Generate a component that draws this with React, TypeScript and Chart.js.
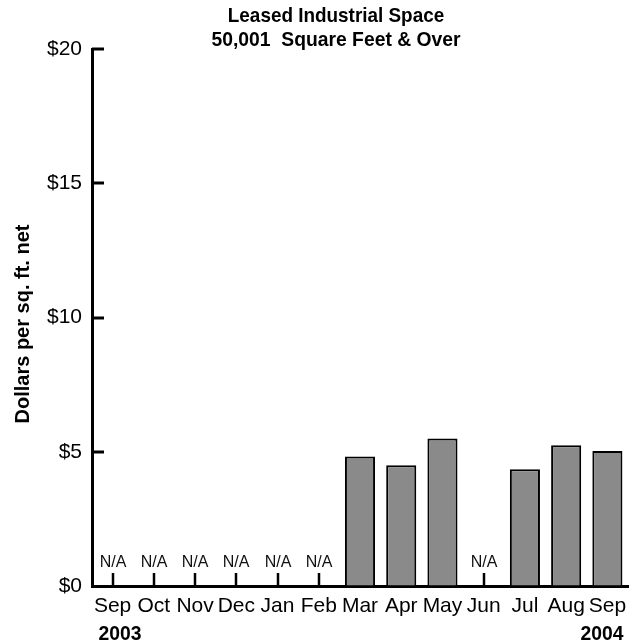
import React, { useEffect, useRef } from "react";
import { Chart, registerables } from "chart.js";

Chart.register(...registerables);

const categories = ["Sep", "Oct", "Nov", "Dec", "Jan", "Feb", "Mar", "Apr", "May", "Jun", "Jul", "Aug", "Sep"];
const rents: (number | null)[] = [null, null, null, null, null, null, 4.82, 4.5, 5.49, null, 4.35, 5.24, 5.03];
const yMin = 0;
const yMax = 20;
const yStep = 5;
const titleLines = ["Leased Industrial Space", "50,001  Square Feet & Over"];
const yTitle = "Dollars per sq. ft. net";
const startYear = "2003";
const endYear = "2004";
const naLabel = "N/A";

const SANS = '"Liberation Sans", Arial, sans-serif';

function narrowText(ctx: CanvasRenderingContext2D, text: string, x: number, y: number, sx: number) {
  ctx.save();
  ctx.translate(x, y);
  ctx.scale(sx, 1);
  ctx.fillText(text, 0, 0);
  ctx.restore();
}

const decorPlugin = {
  id: "decor",
  afterDraw(chart: any) {
    const ctx = chart.ctx as CanvasRenderingContext2D;
    const area = chart.chartArea;
    const xs = chart.scales.x;
    const ys = chart.scales.y;
    ctx.save();
    // Title
    ctx.fillStyle = "#000";
    ctx.textAlign = "center";
    ctx.textBaseline = "middle";
    ctx.font = `bold 21px ${SANS}`;
    narrowText(ctx, titleLines[0], 336, 16, 0.9);
    narrowText(ctx, titleLines[1], 336, 40, 0.92);
    // Y title
    ctx.save();
    ctx.translate(23, 324);
    ctx.rotate(-Math.PI / 2);
    ctx.font = `bold 20px ${SANS}`;
    ctx.fillText(yTitle, 0, 0);
    ctx.restore();
    // inward y ticks
    ctx.strokeStyle = "#000";
    ctx.lineWidth = 3;
    ys.ticks.forEach((t: any) => {
      if (t.value === yMin) return;
      const py = Math.round(ys.getPixelForValue(t.value));
      ctx.beginPath();
      ctx.moveTo(area.left, py);
      ctx.lineTo(area.left + 12, py);
      ctx.stroke();
    });
    // N/A markers
    ctx.font = `16px ${SANS}`;
    ctx.textAlign = "center";
    ctx.textBaseline = "middle";
    ctx.fillStyle = "#111";
    rents.forEach((v, i) => {
      if (v !== null) return;
      const px = Math.round(xs.getPixelForValue(i));
      const py0 = ys.getPixelForValue(0);
      ctx.lineWidth = 2.5;
      ctx.beginPath();
      ctx.moveTo(px, py0);
      ctx.lineTo(px, py0 - 13);
      ctx.stroke();
      ctx.fillText(naLabel, px, py0 - 23);
    });
    // Years
    ctx.fillStyle = "#000";
    ctx.font = `bold 21px ${SANS}`;
    ctx.textBaseline = "middle";
    ctx.textAlign = "left";
    narrowText(ctx, startYear, xs.getPixelForValue(0) - 14, 634, 0.92);
    ctx.textAlign = "right";
    narrowText(ctx, endYear, xs.getPixelForValue(categories.length - 1) + 16, 634, 0.92);
    ctx.restore();
  },
};

export default function App() {
  const ref = useRef<HTMLCanvasElement>(null);
  useEffect(() => {
    document.body.style.margin = "0";
    const chart = new Chart(ref.current!, {
      type: "bar",
      data: {
        labels: categories,
        datasets: [
          {
            data: rents as any,
            backgroundColor: "#8a8a8a",
            borderColor: "#000",
            borderWidth: 2,
            barPercentage: 0.73,
            categoryPercentage: 1,
          },
        ],
      },
      options: {
        responsive: false,
        animation: false,
        devicePixelRatio: 1,
        layout: { padding: { top: 49, right: 8, left: 0, bottom: 0 } },
        plugins: {
          legend: { display: false },
          tooltip: { enabled: false },
          title: { display: false },
        },
        scales: {
          x: {
            type: "category",
            offset: true,
            grid: { display: true, drawOnChartArea: false, drawTicks: false },
            border: { display: true, color: "#000", width: 3 },
            ticks: {
              color: "#000",
              font: { family: SANS, size: 21 },
              padding: 8,
              maxRotation: 0,
              autoSkip: false,
            },
            afterFit: (s: any) => {
              s.height = 58;
            },
          },
          y: {
            min: yMin,
            max: yMax,
            grid: { display: true, drawOnChartArea: false, drawTicks: false },
            border: { display: true, color: "#000", width: 3 },
            ticks: {
              stepSize: yStep,
              color: "#000",
              font: { family: SANS, size: 21 },
              padding: 10,
              callback: (v: any) => "$" + v,
            },
            afterFit: (s: any) => {
              s.width = 92;
            },
          },
        },
      },
      plugins: [decorPlugin],
    });
    return () => chart.destroy();
  }, []);
  return (
    <div style={{ width: 636, height: 644 }}>
      <canvas ref={ref} width={636} height={644} style={{ display: "block" }} />
    </div>
  );
}
